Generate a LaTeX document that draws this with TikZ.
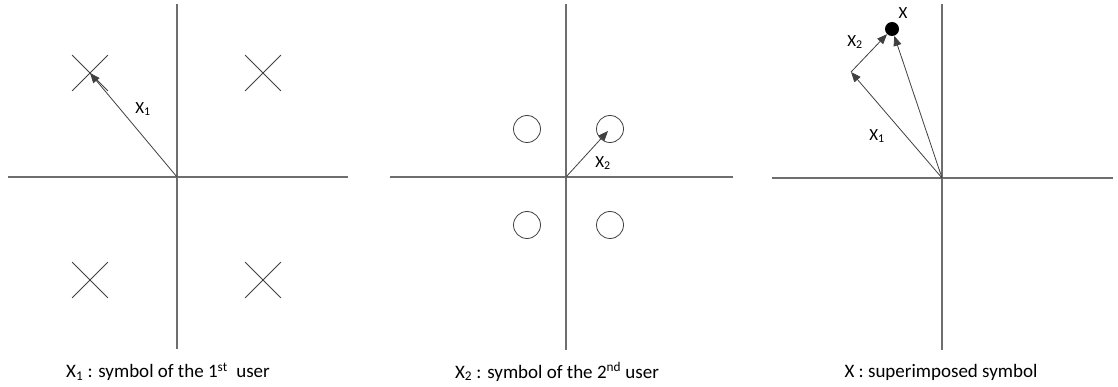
\documentclass[tikz,border=0pt]{standalone}
\usepackage{fontspec}
\setmainfont{Carlito}
\usetikzlibrary{shapes.misc,arrows.meta}
\definecolor{axcol}{HTML}{6E6E6E}
\definecolor{lncol}{HTML}{404040}
\tikzset{
  axis/.style={draw=axcol,line width=1.1pt},
  crossmark/.style={cross out,draw=lncol,line width=0.8pt,minimum size=35pt,inner sep=0pt},
  ringmark/.style={circle,draw=lncol,line width=0.8pt,minimum size=27pt,inner sep=0pt},
  dotmark/.style={circle,fill=black,minimum size=14pt,inner sep=0pt},
  vec/.style={draw=lncol,line width=0.8pt,-{Triangle[length=10pt,width=8pt]}},
  lbl/.style={font=\fontsize{17}{20}\selectfont,text=black,inner sep=0pt},
  captext/.style={font=\fontsize{19}{22}\selectfont,text=black,inner sep=0pt}
}
\begin{document}
\begin{tikzpicture}[x=1pt,y=-1pt]
\useasboundingbox (0,0) rectangle (1118,387);
% ---------- panel 1 ----------
\coordinate (o1) at (177,177);
\coordinate (a1t) at (177,4);
\coordinate (a1b) at (177,349);
\coordinate (a1l) at (8,177);
\coordinate (a1r) at (348,177);
\draw[axis] (a1t) -- (a1b);
\draw[axis] (a1l) -- (a1r);
\node[crossmark] (c11) at (90,73) {};
\node[crossmark] (c12) at (263,73) {};
\node[crossmark] (c13) at (90,280) {};
\node[crossmark] (c14) at (263,280) {};
\draw[vec] (o1) -- (c11.center);
\node[lbl] (l1) at (143,109) {X\textsubscript{1}};
\node[captext] (cap1) at (168,372) {X\textsubscript{1} : symbol of the 1\textsuperscript{st}\ \ user};
% ---------- panel 2 ----------
\coordinate (o2) at (566,177);
\coordinate (a2t) at (566,4);
\coordinate (a2b) at (566,350);
\coordinate (a2l) at (390,177);
\coordinate (a2r) at (733,177);
\draw[axis] (a2t) -- (a2b);
\draw[axis] (a2l) -- (a2r);
\node[ringmark] (r21) at (527,129) {};
\node[ringmark] (r22) at (610,129) {};
\node[ringmark] (r23) at (527,225) {};
\node[ringmark] (r24) at (610,225) {};
\coordinate (t2) at (608,131);
\draw[vec] (o2) -- (t2);
\node[lbl] (l2) at (603,163) {X\textsubscript{2}};
\node[captext] (cap2) at (557,372) {X\textsubscript{2} : symbol of the 2\textsuperscript{nd} user};
% ---------- panel 3 ----------
\coordinate (o3) at (942,178);
\coordinate (a3t) at (942,4);
\coordinate (a3b) at (942,350);
\coordinate (a3l) at (772,178);
\coordinate (a3r) at (1113,178);
\draw[axis] (a3t) -- (a3b);
\draw[axis] (a3l) -- (a3r);
\node[dotmark] (d3) at (892,29) {};
\coordinate (m3) at (851,72);
\draw[vec] (o3) -- (m3);
\draw[vec] (m3) -- (d3);
\draw[vec] (o3) -- (d3);
\node[lbl] (lx) at (903,13) {X};
\node[lbl] (lx2) at (855,42) {X\textsubscript{2}};
\node[lbl] (lx1) at (877,136) {X\textsubscript{1}};
\node[captext] (cap3) at (941,372) {X : superimposed symbol};
\end{tikzpicture}
\end{document}
